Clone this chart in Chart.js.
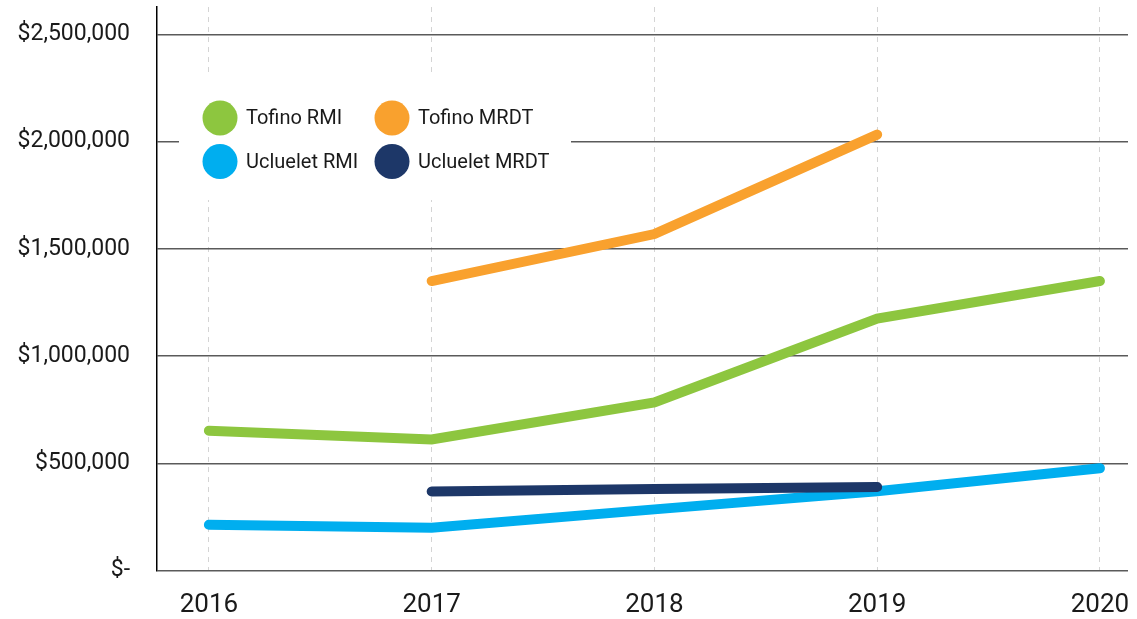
<!DOCTYPE html>
<html lang="en">
<head>
    <meta charset="UTF-8">
    <title>Tofino and Ucluelet RMI / MRDT</title>
    <script src="https://cdn.jsdelivr.net/npm/chart.js"></script>
    <style>
        body {
            margin: 0;
            padding: 0;
            background: #fff;
        }
        canvas {
            display: block;
        }
    </style>
</head>
<body>
    <canvas id="fundingChart" width="1137" height="619"></canvas>
    <script>
        // years on the x axis
        const years = [2016, 2017, 2018, 2019, 2020];
        const yearLabels = ['2016', '2017', '2018', '2019', '2020'];

        // series values (dollars), null where there is no value
        const tofinoRMI = [652000, 611000, 784000, 1175000, 1350000];
        const tofinoMRDT = [null, 1350000, 1569000, 2033000, null];
        const ucelueletRMI = [213000, 199000, 285000, 370000, 477000];
        const ucelueletMRDT = [null, 369000, 380000, 389000, null];

        // y axis ticks
        const yTickValues = [0, 500000, 1000000, 1500000, 2000000, 2500000];
        const yTickLabels = ['$-', '$500,000', '$1,000,000', '$1,500,000', '$2,000,000', '$2,500,000'];

        const seriesNames = ['Tofino RMI', 'Tofino MRDT', 'Ucluelet RMI', 'Ucluelet MRDT'];
        const seriesColors = ['#8dc63f', '#f9a12e', '#00aeef', '#1d3768'];

        function toPoints(values) {
            return years.map((year, i) => ({ x: year, y: values[i] })).filter(p => p.y !== null);
        }

        // white box with the four coloured dots, drawn over the grid
        const boxLegend = {
            id: 'boxLegend',
            beforeDatasetsDraw(chart) {
                const ctx = chart.ctx;
                ctx.save();
                ctx.fillStyle = '#fff';
                ctx.fillRect(179, 77, 392, 123);
                const cols = [220, 392];
                const rows = [118, 161.5];
                ctx.font = '20px Roboto, "DejaVu Sans", sans-serif';
                ctx.textBaseline = 'middle';
                seriesNames.forEach((name, i) => {
                    const cx = cols[i % 2];
                    const cy = rows[Math.floor(i / 2)];
                    ctx.beginPath();
                    ctx.arc(cx, cy, 17.5, 0, Math.PI * 2);
                    ctx.fillStyle = seriesColors[i];
                    ctx.fill();
                    ctx.fillStyle = '#1a1a1a';
                    ctx.fillText(name, cx + 26, cy + 1);
                });
                ctx.restore();
            }
        };

        const allSeries = [tofinoRMI, tofinoMRDT, ucelueletRMI, ucelueletMRDT];
        const drawOrder = [0, 0, 1, 0]; // keep Ucluelet MRDT above Ucluelet RMI

        const ctx = document.getElementById('fundingChart').getContext('2d');
        const fundingChart = new Chart(ctx, {
            type: 'line',
            data: {
                datasets: allSeries.map((values, i) => ({
                    label: seriesNames[i],
                    data: toPoints(values),
                    borderColor: seriesColors[i],
                    backgroundColor: seriesColors[i],
                    borderWidth: 10,
                    borderCapStyle: 'round',
                    pointRadius: 0,
                    tension: 0,
                    order: drawOrder[i]
                }))
            },
            options: {
                responsive: false,
                animation: false,
                layout: {
                    padding: { top: 7, right: 9, left: 0, bottom: 0 }
                },
                scales: {
                    x: {
                        type: 'linear',
                        min: 2015.767,
                        max: 2020.126,
                        afterBuildTicks: scale => {
                            scale.ticks = years.map(v => ({ value: v }));
                        },
                        afterFit: scale => {
                            scale.height = 48.5;
                            scale.paddingLeft = 0;
                            scale.paddingRight = 0;
                        },
                        ticks: {
                            padding: 19,
                            color: '#1a1a1a',
                            font: { family: 'Roboto', size: 26 },
                            callback: value => yearLabels[years.indexOf(value)]
                        },
                        grid: {
                            color: '#d4d4d4',
                            lineWidth: 1,
                            drawTicks: false
                        },
                        border: {
                            display: false,
                            dash: [5, 5]
                        }
                    },
                    y: {
                        min: 0,
                        max: 2628000,
                        afterBuildTicks: scale => {
                            scale.ticks = yTickValues.map(v => ({ value: v }));
                        },
                        afterFit: scale => {
                            scale.width = 157;
                            scale.paddingTop = 0;
                            scale.paddingBottom = 0;
                        },
                        ticks: {
                            padding: 27,
                            color: '#1a1a1a',
                            font: { family: 'Roboto', size: 23 },
                            callback: value => yTickLabels[yTickValues.indexOf(value)]
                        },
                        grid: {
                            color: '#5a5a5a',
                            lineWidth: 1.5,
                            drawTicks: false
                        },
                        border: {
                            color: '#000',
                            width: 1.5
                        }
                    }
                },
                plugins: {
                    legend: { display: false },
                    tooltip: { enabled: false }
                }
            },
            plugins: [boxLegend]
        });
    </script>
</body>
</html>
